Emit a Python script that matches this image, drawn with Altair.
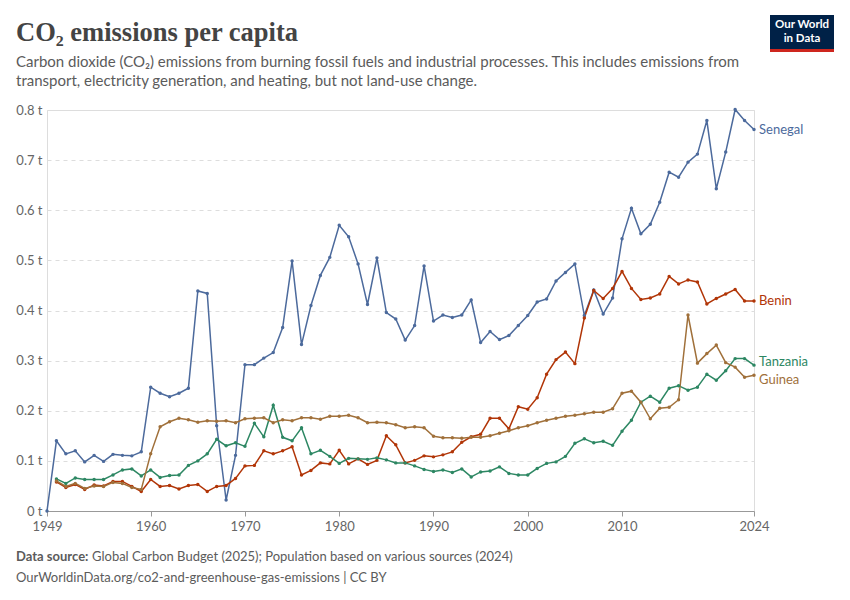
import altair as alt
import pandas as pd

# -----------------------------
# DATA (t CO2 per person)
# -----------------------------
years_senegal = list(range(1949, 2025))
years = list(range(1950, 2025))

senegal = [
    0.0,
    0.140, 0.114, 0.120, 0.098, 0.111, 0.099, 0.113, 0.111, 0.110, 0.118,
    0.247, 0.235, 0.228, 0.235, 0.245, 0.439, 0.434, 0.170, 0.022, 0.111,
    0.292, 0.292, 0.305, 0.316, 0.366, 0.499, 0.332, 0.410, 0.470, 0.506,
    0.570, 0.547, 0.493, 0.412, 0.505, 0.396, 0.383, 0.341, 0.370, 0.489,
    0.379, 0.391, 0.386, 0.391, 0.421, 0.336, 0.358, 0.342, 0.350, 0.370,
    0.390, 0.417, 0.423, 0.459, 0.476, 0.493, 0.390, 0.441, 0.393, 0.425,
    0.543, 0.604, 0.553, 0.572, 0.616, 0.676, 0.666, 0.696, 0.712, 0.779,
    0.643, 0.716, 0.801, 0.779, 0.761,
]

benin = [
    0.058, 0.047, 0.053, 0.043, 0.052, 0.050, 0.059, 0.059, 0.049, 0.039,
    0.063, 0.049, 0.051, 0.044, 0.051, 0.053, 0.039, 0.049, 0.051, 0.065,
    0.090, 0.091, 0.120, 0.114, 0.120, 0.128, 0.072, 0.081, 0.096, 0.094,
    0.121, 0.094, 0.104, 0.093, 0.101, 0.150, 0.132, 0.096, 0.101, 0.110,
    0.108, 0.112, 0.118, 0.137, 0.148, 0.153, 0.185, 0.185, 0.164, 0.208,
    0.203, 0.226, 0.273, 0.302, 0.317, 0.294, 0.385, 0.440, 0.424, 0.444,
    0.478, 0.444, 0.422, 0.425, 0.433, 0.468, 0.453, 0.461, 0.457, 0.413,
    0.424, 0.433, 0.442, 0.419, 0.419,
]

tanzania = [
    0.064, 0.055, 0.066, 0.063, 0.063, 0.063, 0.072, 0.082, 0.084, 0.070,
    0.082, 0.067, 0.071, 0.072, 0.091, 0.100, 0.114, 0.143, 0.130, 0.136,
    0.129, 0.175, 0.148, 0.211, 0.147, 0.140, 0.166, 0.114, 0.121, 0.109,
    0.095, 0.105, 0.104, 0.103, 0.106, 0.102, 0.096, 0.096, 0.090, 0.083,
    0.079, 0.082, 0.077, 0.084, 0.068, 0.078, 0.080, 0.088, 0.075, 0.072,
    0.072, 0.085, 0.095, 0.098, 0.109, 0.135, 0.144, 0.136, 0.139, 0.131,
    0.159, 0.181, 0.217, 0.229, 0.217, 0.245, 0.250, 0.241, 0.247, 0.273,
    0.261, 0.280, 0.304, 0.304, 0.291,
]

guinea = [
    0.060, 0.049, 0.055, 0.045, 0.050, 0.049, 0.057, 0.055, 0.047, 0.043,
    0.114, 0.168, 0.178, 0.185, 0.182, 0.177, 0.180, 0.179, 0.180, 0.176,
    0.184, 0.185, 0.186, 0.176, 0.182, 0.180, 0.186, 0.186, 0.183, 0.189,
    0.189, 0.191, 0.186, 0.176, 0.177, 0.176, 0.172, 0.166, 0.168, 0.166,
    0.149, 0.146, 0.146, 0.145, 0.147, 0.147, 0.150, 0.155, 0.160, 0.166,
    0.170, 0.176, 0.181, 0.185, 0.189, 0.191, 0.194, 0.197, 0.197, 0.204,
    0.235, 0.239, 0.217, 0.184, 0.205, 0.207, 0.222, 0.391, 0.295, 0.314,
    0.331, 0.296, 0.287, 0.267, 0.271,
]

countries = ["Senegal", "Benin", "Tanzania", "Guinea"]
colors = ["#4c6a9c", "#b13507", "#2d8763", "#a0703a"]
x_ticks = [1949, 1960, 1970, 1980, 1990, 2000, 2010, 2024]
y_ticks = [0, 0.1, 0.2, 0.3, 0.4, 0.5, 0.6, 0.7, 0.8]

title = "CO₂ emissions per capita"
subtitle = [
    "Carbon dioxide (CO₂) emissions from burning fossil fuels and industrial processes. This includes emissions from",
    "transport, electricity generation, and heating, but not land-use change.",
]
source_bold = "Data source:"
source_text = "Global Carbon Budget (2025); Population based on various sources (2024)"
url_text = "OurWorldinData.org/co2-and-greenhouse-gas-emissions | CC BY"

# -----------------------------
# LONG TABLE
# -----------------------------
frames = [pd.DataFrame({"year": years_senegal, "value": senegal, "country": "Senegal"})]
for name, vals in [("Benin", benin), ("Tanzania", tanzania), ("Guinea", guinea)]:
    frames.append(pd.DataFrame({"year": years, "value": vals, "country": name}))
df = pd.concat(frames, ignore_index=True)

W, H = 707, 401
FONT = "Lato"

color = alt.Color(
    "country:N",
    scale=alt.Scale(domain=countries, range=colors),
    legend=None,
)

base = alt.Chart(df).encode(
    x=alt.X(
        "year:Q",
        scale=alt.Scale(domain=[1949, 2024], nice=False, zero=False),
        axis=alt.Axis(
            values=x_ticks, format="d", title=None, grid=False,
            domainColor="#999999", tickColor="#999999", tickSize=5,
            labelColor="#666666", labelFontSize=13, labelFont=FONT,
            labelPadding=4, labelFlush=False,
        ),
    ),
    y=alt.Y(
        "value:Q",
        scale=alt.Scale(domain=[0, 0.8], nice=False),
        axis=alt.Axis(
            values=y_ticks, title=None, domain=False, ticks=False,
            labelExpr="format(datum.value, '.1~f') + ' t'",
            labelColor="#666666", labelFontSize=13, labelFont=FONT,
            labelPadding=5, gridColor="#dddddd", gridDash=[4, 4],
        ),
    ),
    color=color,
)

lines = base.mark_line(strokeWidth=1.5, clip=False)
points = base.mark_circle(size=12, opacity=1, clip=False)

# end-of-line labels, nudged where they would touch
label_dy = {"Senegal": 0, "Benin": 0, "Tanzania": -3, "Guinea": 5}
end_labels = []
for name in countries:
    end_labels.append(
        base.transform_filter(
            (alt.datum.country == name) & (alt.datum.year == 2024)
        ).mark_text(
            align="left", baseline="middle", dx=5, dy=label_dy[name],
            font=FONT, fontSize=13,
        ).encode(text="country:N")
    )


def text_at(txt, x, y, size, col, weight="normal", font=FONT, align="left"):
    return alt.Chart(pd.DataFrame({"t": [txt]})).mark_text(
        align=align, baseline="middle", font=font, fontSize=size,
        fontWeight=weight, color=col,
    ).encode(text="t:N", x=alt.value(x), y=alt.value(y))


header = [
    text_at(title, -31, -77, 26.5, "#444444", weight="bold", font="Liberation Serif"),
    text_at(subtitle[0], -31, -48, 15, "#5b5b5b"),
    text_at(subtitle[1], -31, -29, 15, "#5b5b5b"),
]
footer = [
    text_at(source_bold, -31, 447, 13, "#5b5b5b", weight="bold"),
    text_at(source_text, 45, 447, 13, "#5b5b5b"),
    text_at(url_text, -31, 468, 13, "#5b5b5b"),
]

one = pd.DataFrame({"a": [0]})
logo_box = alt.Chart(one).mark_rect(color="#002147").encode(
    x=alt.value(723), x2=alt.value(787), y=alt.value(-95), y2=alt.value(-58)
)
logo_bar = alt.Chart(one).mark_rect(color="#ce261e").encode(
    x=alt.value(723), x2=alt.value(787), y=alt.value(-61), y2=alt.value(-58)
)
logo_text = [
    text_at("Our World", 755, -85, 11.5, "#ffffff", weight="bold", align="center"),
    text_at("in Data", 755, -71, 11.5, "#ffffff", weight="bold", align="center"),
]

chart = (
    alt.layer(lines, points, *end_labels, *header, *footer,
              logo_box, logo_bar, *logo_text)
    .properties(
        width=W, height=H,
        padding={"left": 39, "top": 102, "right": 80, "bottom": 80},
        autosize=alt.AutoSizeParams(type="none"),
    )
    .configure_view(stroke=None)
    .configure(background="#ffffff")
)

chart.save("out.html", embed_options={"renderer": "svg", "actions": False})
